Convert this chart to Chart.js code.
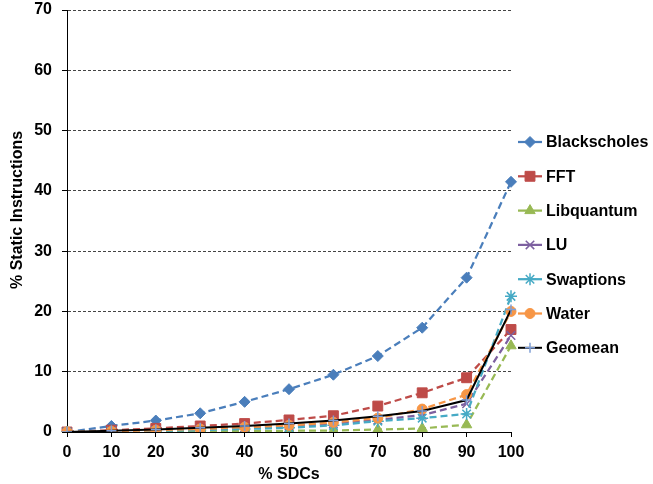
<!DOCTYPE html>
<html>
<head>
<meta charset="utf-8">
<script src="https://cdn.jsdelivr.net/npm/chart.js@4.4.0/dist/chart.umd.min.js"></script>
<style>
  body { margin: 0; background: #fff; }
  #chart { display: block; }
</style>
</head>
<body>
<canvas id="chart" width="653" height="484"></canvas>
<script>
// x categories (% SDCs)
const sdcLabels = ['0', '10', '20', '30', '40', '50', '60', '70', '80', '90', '100'];

// % static instructions
const blackscholes = [0, 1.0, 1.9, 3.1, 5.0, 7.1, 9.5, 12.6, 17.3, 25.6, 41.5];
const fft          = [0, 0.3, 0.6, 1.0, 1.4, 2.0, 2.7, 4.3, 6.5, 9.0, 17.0];
const libquantum   = [0, 0.05, 0.1, 0.1, 0.15, 0.2, 0.25, 0.4, 0.6, 1.2, 14.3];
const lu           = [0, 0.1, 0.3, 0.5, 0.7, 1.0, 1.4, 2.0, 2.8, 4.7, 16.0];
const swaptions    = [0, 0.1, 0.2, 0.3, 0.5, 0.7, 1.1, 1.8, 2.3, 3.0, 22.5];
const water        = [0, 0.1, 0.3, 0.5, 0.8, 1.1, 1.6, 2.3, 3.8, 6.2, 20.0];
const geomean      = [0, 0.2, 0.4, 0.7, 1.0, 1.4, 1.9, 2.6, 3.5, 5.3, 20.3];

const yMax = 70;
const yStep = 10;

const FONT = "'Liberation Sans', Arial, sans-serif";

function series(label, data, color, style, radius, order, opts) {
  return Object.assign({
    label: label,
    data: data,
    borderColor: color,
    backgroundColor: color,
    borderWidth: 2.25,
    borderDash: [7, 4],
    pointStyle: style,
    pointRadius: radius,
    pointBackgroundColor: color,
    pointBorderColor: color,
    pointBorderWidth: 1,
    tension: 0,
    fill: false,
    order: order
  }, opts || {});
}

const datasets = [
  series('Blackscholes', blackscholes, '#4A7EBB', 'rectRot', 5.5, 7),
  series('FFT', fft, '#BE4B48', 'rect', 7, 6),
  series('Libquantum', libquantum, '#98B954', 'triangle', 6, 5),
  series('LU', lu, '#7D60A0', 'crossRot', 6, 4, { pointBorderWidth: 1.5 }),
  series('Swaptions', swaptions, '#46AAC5', 'star', 6, 3, { pointBorderWidth: 1.5 }),
  series('Water', water, '#F79646', 'circle', 5, 2),
  series('Geomean', geomean, '#000000', 'cross', 5, 1, {
    borderDash: [], borderWidth: 2,
    pointBorderColor: '#7F9ED5', pointBackgroundColor: '#7F9ED5', pointBorderWidth: 1.5
  })
];

// legend on the right, drawn by hand so it sits where the original one does
const sideLegend = {
  id: 'sideLegend',
  afterDraw(chart) {
    const ctx = chart.ctx;
    ctx.save();
    chart.data.datasets.forEach((ds, i) => {
      const y = 142 + i * 34.3;
      ctx.setLineDash([]);
      ctx.lineWidth = ds.borderWidth;
      ctx.strokeStyle = ds.borderColor;
      ctx.beginPath();
      ctx.moveTo(518, y);
      ctx.lineTo(542, y);
      ctx.stroke();
      ctx.fillStyle = ds.pointBackgroundColor;
      ctx.strokeStyle = ds.pointBorderColor;
      ctx.lineWidth = ds.pointBorderWidth;
      Chart.helpers.drawPoint(ctx, {
        pointStyle: ds.pointStyle, radius: ds.pointRadius, rotation: 0, borderWidth: ds.pointBorderWidth
      }, 530, y);
      ctx.fillStyle = '#000';
      ctx.font = 'bold 16px ' + FONT;
      ctx.textAlign = 'left';
      ctx.textBaseline = 'middle';
      ctx.fillText(ds.label, 546, y + 1);
    });
    ctx.restore();
  }
};

new Chart(document.getElementById('chart'), {
  type: 'line',
  data: { labels: sdcLabels, datasets: datasets },
  options: {
    responsive: false,
    animation: false,
    devicePixelRatio: 1,
    layout: { padding: { top: 10, right: 142, left: 0, bottom: 0 } },
    plugins: {
      legend: { display: false },
      tooltip: { enabled: false }
    },
    scales: {
      x: {
        type: 'category',
        offset: false,
        afterFit: s => { s.height = 52; },
        grid: { display: true, drawOnChartArea: false, drawTicks: true, tickLength: 5, tickColor: '#000' },
        border: { display: true, color: '#000', width: 1 },
        ticks: { color: '#000', padding: 6, maxRotation: 0, font: { family: FONT, size: 16, weight: 'bold' } },
        title: {
          display: true, text: '% SDCs', color: '#000',
          padding: { top: 0, bottom: 0 },
          font: { family: FONT, size: 16, weight: 'bold' }
        }
      },
      y: {
        min: 0,
        max: yMax,
        afterFit: s => { s.width = 67; s.paddingTop = 0; s.paddingBottom = 0; },
        grid: {
          color: c => (c.tick && c.tick.value === 0) ? 'rgba(0,0,0,0)' : '#444',
          tickColor: '#000', tickLength: 5, tickBorderDash: []
        },
        border: { display: true, color: '#000', width: 1, dash: [3, 2] },
        ticks: { stepSize: yStep, color: '#000', padding: 10, font: { family: FONT, size: 16, weight: 'bold' } },
        title: {
          display: true, text: '\u00a0\u00a0\u00a0\u00a0\u00a0% Static Instructions', color: '#000',
          padding: { top: 8, bottom: 0 },
          font: { family: FONT, size: 16, weight: 'bold' }
        }
      }
    }
  },
  plugins: [sideLegend]
});
</script>
</body>
</html>
